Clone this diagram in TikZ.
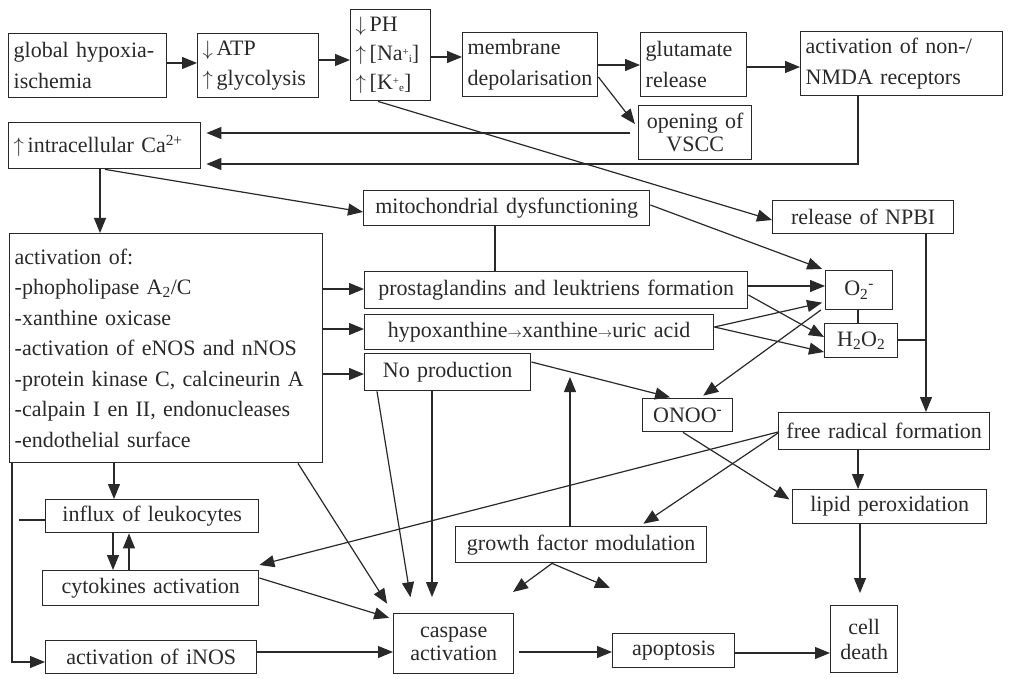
\documentclass[tikz,border=0pt]{standalone}
\usepackage{fontspec}
\setmainfont{Liberation Serif}
\usetikzlibrary{arrows.meta}
\definecolor{ink}{gray}{0.16}
\newcommand\fs{\fontsize{22}{30.5}\selectfont\spaceskip=0.4em plus 0.2em minus 0.1em\relax}
\newcommand\sar{{\fontsize{15}{15}\selectfont$\rightarrow$}}
\newcommand\supsub[2]{\raisebox{5pt}{\fontsize{11}{11}\selectfont #1}\raisebox{-2pt}{\fontsize{11}{11}\selectfont #2}}
\newcommand\bx[8][]{%
  \pgfmathsetmacro\myBW{#5-#3}\pgfmathsetmacro\myBH{#6-#4}\pgfmathsetmacro\myTW{#5-#3-10}%
  \node[box,align=#7,minimum width=\myBW pt,minimum height=\myBH pt,text width=\myTW pt,#1] (#2) at (#3,#4) {#8};}
\tikzset{
  box/.style={draw=ink,line width=1.4pt,anchor=north west,inner xsep=4pt,inner ysep=0pt,font=\fs,text=ink},
  tight/.style={font=\fs\fontsize{22}{23}\selectfont},
  ln/.style={draw=ink,line width=1.2pt},
  arr/.style={ln,-{Triangle[length=15pt,width=12pt]}}
}
\begin{document}
\begin{tikzpicture}[x=1pt,y=-1pt]
\useasboundingbox (0,0) rectangle (1012,679);
\bx{hyp}{8}{33}{166}{97}{left}{global hypoxia-\\ischemia}
\bx{atp}{197}{33}{318}{97}{left}{$\downarrow$\,ATP\\$\uparrow$\,glycolysis}
\bx[font=\fs\fontsize{22}{29}\selectfont]{ph}{350}{9}{430}{100}{left}{$\downarrow$\,PH\\$\uparrow$\,[Na\supsub{+}{i}]\\$\uparrow$\,[K\supsub{+}{e}]}
\bx{mem}{462}{32}{597}{96}{left}{membrane\\depolarisation}
\bx{glu}{640}{32}{746}{96}{left}{glutamate\\release}
\bx{nmda}{800}{31}{1002}{95}{left}{activation of non-/\\NMDA receptors}
\bx[tight]{vscc}{638}{105}{751}{159}{center}{opening of\\VSCC}
\bx{ca}{8}{122}{200}{168}{left}{$\uparrow$\,intracellular Ca\textsuperscript{2+}}
\bx{mito}{363}{190}{649}{225}{center}{mitochondrial dysfunctioning}
\bx{npbi}{772}{200}{953}{233}{center}{release of NPBI}
\bx{act}{9}{233}{322}{462}{left}{activation of:\\-phopholipase A\textsubscript{2}/C\\-xanthine oxicase\\-activation of eNOS and nNOS\\-protein kinase C, calcineurin A\\-calpain I en II, endonucleases\\-endothelial surface}
\bx{pros}{364}{271}{747}{308}{center}{prostaglandins and leuktriens formation}
\bx{hx}{364}{314}{713}{349}{center}{hypoxanthine\sar xanthine\sar uric acid}
\bx{nop}{364}{353}{530}{390}{center}{No production}
\bx{o2}{825}{270}{892}{309}{center}{O\textsubscript{2}\textsuperscript{-}}
\bx{h2o2}{824}{323}{897}{357}{center}{H\textsubscript{2}O\textsubscript{2}}
\bx{onoo}{642}{398}{732}{431}{center}{ONOO\textsuperscript{-}}
\bx{frf}{778}{412}{989}{449}{center}{free radical formation}
\bx{lip}{792}{489}{986}{523}{center}{lipid peroxidation}
\bx{gfm}{455}{526}{706}{562}{center}{growth factor modulation}
\bx{inf}{45}{499}{258}{532}{center}{influx of leukocytes}
\bx{cyt}{42}{570}{258}{605}{center}{cytokines activation}
\bx{inos}{45}{640}{256}{673}{center}{activation of iNOS}
\bx[tight]{casp}{393}{613}{513}{673}{center}{caspase\\activation}
\bx[font=\fs\fontsize{22}{25}\selectfont]{cd}{830}{605}{897}{672}{center}{cell\\death}
\bx{apo}{612}{633}{734}{667}{center}{apoptosis}
\coordinate (j) at (926,340);
\coordinate (gup) at (570,377);
\coordinate (gl) at (513,592);
\coordinate (gr) at (610,588);
% top row
\draw[arr] (hyp.east |- 0,63) -- (atp.west |- 0,63);
\draw[arr] (atp.east |- 0,60) -- (ph.west |- 0,60);
\draw[arr] (ph.east |- 0,57) -- (mem.west |- 0,57);
\draw[arr] (mem.east |- 0,65) -- (glu.west |- 0,65);
\draw[arr] (glu.east |- 0,67) -- (nmda.west |- 0,67);
\draw[arr,shorten >=5pt] (mem.east |- 0,77) -- (vscc.west |- 0,128);
\draw[arr,shorten <=8pt,shorten >=5pt] (vscc.west |- 0,133) -- (ca.east |- 0,133);
\draw[arr,shorten >=5pt] (nmda.south -| 858,0) |- (ca.east |- 0,164);
\draw[arr] (ph.south -| 378,0) -- (npbi.west |- 0,220);
\draw[arr] (ca.south -| 100,0) -- (act.north -| 100,0);
\draw[arr] (ca.south -| 105,0) -- (mito.west |- 0,212);
\draw[arr,shorten >=3pt] (mito.east |- 0,205) -- (o2.north west);
\draw[ln] (mito.south -| 495,0) -- (pros.north -| 495,0);
\draw[arr] (npbi.south -| 926,0) -- (frf.north -| 926,0);
\draw[ln] (h2o2.east |- 0,340) -- (j);
\draw[ln] (o2.south -| 858,0) -- (h2o2.north -| 858,0);
% middle
\draw[arr] (act.east |- 0,289) -- (pros.west |- 0,289);
\draw[arr] (act.east |- 0,329) -- (hx.west |- 0,329);
\draw[arr] (act.east |- 0,374) -- (nop.west |- 0,374);
\draw[arr] (pros.east |- 0,286) -- (o2.west |- 0,286);
\draw[arr] (pros.east |- 0,295) -- (h2o2.west |- 0,337);
\draw[arr,shorten >=3pt] (hx.east |- 0,327) -- (o2.west |- 0,302);
\draw[arr] (hx.east |- 0,327) -- (h2o2.west |- 0,352);
\draw[arr,shorten <=5pt,shorten >=4pt] (o2.west |- 0,307) -- (onoo.north -| 700,0);
\draw[arr,shorten >=3pt] (nop.east |- 0,362) -- (onoo.north -| 673,0);
\draw[arr] (gfm.north -| 570,0) -- (gup);
\draw[arr,shorten >=16pt] (nop.south -| 377,0) -- (casp.north -| 413,0);
\draw[arr,shorten >=16pt] (nop.south -| 432,0) -- (casp.north -| 432,0);
\draw[arr,shorten >=11pt] (act.south -| 298,0) -- (casp.north west);
% left column
\draw[arr] (act.south -| 114,0) -- (inf.north -| 114,0);
\draw[arr] (inf.south -| 113,0) -- (cyt.north -| 113,0);
\draw[arr] (cyt.north -| 129,0) -- (inf.south -| 129,0);
\draw[arr] (act.south -| 12,0) |- (inos.west |- 0,662);
\draw[ln] (inf.west |- 0,520) -- ++(-26,0);
\draw[arr,shorten >=4pt] (cyt.east |- 0,578) -- (casp.west |- 0,619);
\draw[arr] (inos.east |- 0,652) -- (casp.west |- 0,652);
% right
\draw[arr] (frf.west |- 0,432) -- (cyt.east |- 0,565);
\draw[arr,shorten >=4pt] (frf.west |- 0,433) -- (gfm.north -| 640,0);
\draw[arr,shorten >=3pt] (onoo.south -| 683,0) -- (lip.west |- 0,501);
\draw[arr] (frf.south -| 858,0) -- (lip.north -| 858,0);
\draw[arr,shorten >=12pt] (lip.south -| 860,0) -- (cd.north -| 860,0);
\draw[arr] (gfm.south -| 552,0) -- (gl);
\draw[arr] (gfm.south -| 552,0) -- (gr);
\draw[arr,shorten <=5pt] (casp.east |- 0,652) -- (apo.west |- 0,652);
\draw[arr] (apo.east |- 0,653) -- (cd.west |- 0,653);
\end{tikzpicture}
\end{document}
